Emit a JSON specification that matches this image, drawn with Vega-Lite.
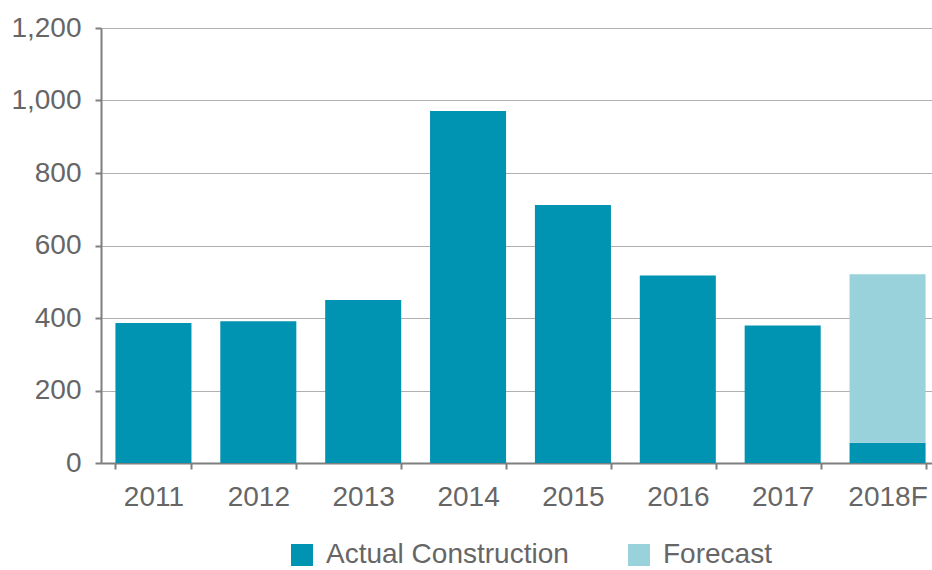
{
  "$schema": "https://vega.github.io/schema/vega-lite/v6.json",
  "autosize": "none",
  "width": 839,
  "height": 435,
  "padding": {"left": 101, "top": 28, "right": 0, "bottom": 107},
  "background": "white",
  "config": {
    "view": {"stroke": null},
    "font": "Liberation Sans"
  },
  "data": {
    "values": [
      {"year": "2011", "series": "Actual Construction", "order": 1, "value": 386},
      {"year": "2012", "series": "Actual Construction", "order": 1, "value": 391},
      {"year": "2013", "series": "Actual Construction", "order": 1, "value": 450},
      {"year": "2014", "series": "Actual Construction", "order": 1, "value": 971},
      {"year": "2015", "series": "Actual Construction", "order": 1, "value": 712},
      {"year": "2016", "series": "Actual Construction", "order": 1, "value": 517},
      {"year": "2017", "series": "Actual Construction", "order": 1, "value": 379},
      {"year": "2018F", "series": "Actual Construction", "order": 1, "value": 56},
      {"year": "2018F", "series": "Forecast", "order": 2, "value": 465}
    ]
  },
  "mark": {"type": "bar"},
  "encoding": {
    "x": {
      "field": "year",
      "type": "nominal",
      "sort": null,
      "scale": {"paddingInner": 0.275, "paddingOuter": 0.1375},
      "axis": {
        "title": null,
        "labelAngle": 0,
        "labelFontSize": 28,
        "labelColor": "#666666",
        "labelPadding": 14,
        "domainColor": "#7f7f7f",
        "domainWidth": 2,
        "tickColor": "#7f7f7f",
        "tickWidth": 2,
        "tickSize": 6,
        "tickBand": "extent",
        "grid": false
      }
    },
    "y": {
      "field": "value",
      "type": "quantitative",
      "stack": "zero",
      "scale": {"domain": [0, 1200], "nice": false},
      "axis": {
        "title": null,
        "values": [0, 200, 400, 600, 800, 1000, 1200],
        "format": ",d",
        "labelFontSize": 28,
        "labelColor": "#666666",
        "labelPadding": 14,
        "domainColor": "#7f7f7f",
        "domainWidth": 2,
        "tickColor": "#7f7f7f",
        "tickWidth": 2,
        "tickSize": 6,
        "grid": true,
        "gridColor": "#b0b0b0",
        "gridWidth": 1.2
      }
    },
    "color": {
      "field": "series",
      "type": "nominal",
      "scale": {
        "domain": ["Actual Construction", "Forecast"],
        "range": ["#0093b2", "#9ad2dc"]
      },
      "legend": {
        "title": null,
        "orient": "none",
        "direction": "horizontal",
        "legendX": 187,
        "legendY": 513,
        "symbolType": "square",
        "symbolSize": 484,
        "symbolStrokeWidth": 0,
        "labelFontSize": 28,
        "labelLimit": 400,
        "labelColor": "#666666",
        "labelOffset": 10,
        "columnPadding": 56
      }
    },
    "order": {"field": "order", "type": "quantitative"}
  }
}
